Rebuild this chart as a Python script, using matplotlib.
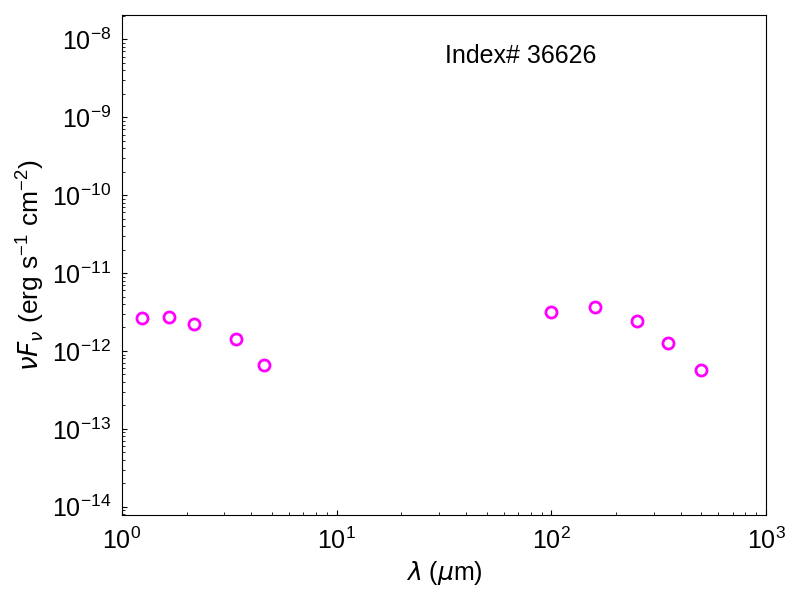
import matplotlib
matplotlib.use("Agg")
import matplotlib.pyplot as plt

wavelength_um = [1.235, 1.662, 2.159, 3.4, 4.6, 100, 160, 250, 350, 500]
nuFnu = [2.65e-12, 2.73e-12, 2.22e-12, 1.43e-12, 6.6e-13,
         3.16e-12, 3.70e-12, 2.42e-12, 1.28e-12, 5.75e-13]
label_text = "Index# 36626"

plt.rcParams['font.family'] = ['Liberation Sans', 'DejaVu Sans']
plt.rcParams['mathtext.fontset'] = 'custom'
plt.rcParams['mathtext.rm'] = 'Liberation Sans'
plt.rcParams['mathtext.it'] = 'DejaVu Sans:italic'
plt.rcParams['mathtext.bf'] = 'Liberation Sans:bold'

fig = plt.figure(figsize=(8, 6), dpi=100)
ax = fig.add_axes([0.1525, 0.1422, 0.805, 0.8323])
ax.plot(wavelength_um, nuFnu, 'o', mfc='none', mec='magenta', ms=8, mew=2)
ax.set_xscale('log')
ax.set_yscale('log')
ax.set_xlim(1, 1000)
ax.set_ylim(7.9e-15, 2.04e-8)
ax.tick_params(which='both', direction='in', top=False, right=False, labelsize=18)
ax.tick_params(axis='x', which='both', pad=9)
ax.tick_params(axis='y', which='both', pad=8)
ax.set_xlabel(r'$\lambda$ ($\mu$m)', fontsize=18, labelpad=4)
ax.set_ylabel(r'$\nu F_\nu$ (erg s$^{-1}$ cm$^{-2}$)', fontsize=19, labelpad=4)
ax.text(0.619, 0.918, label_text, transform=ax.transAxes, ha='center', va='center', fontsize=18)
fig.savefig('out.png', dpi=100)
